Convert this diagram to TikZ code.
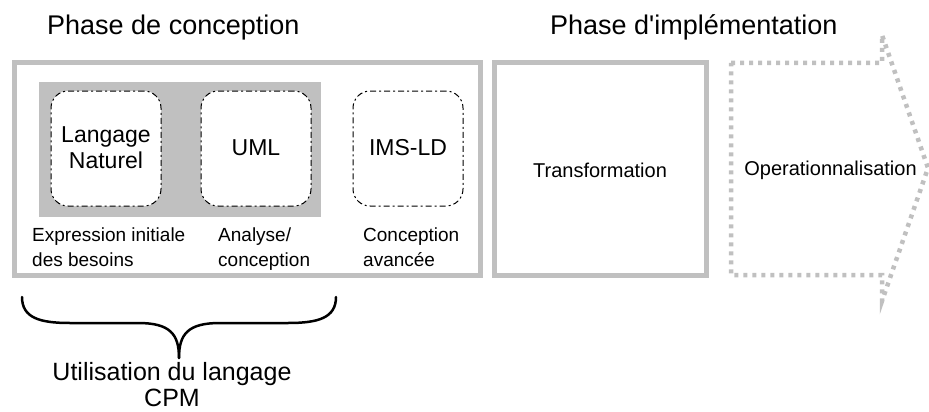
\documentclass[tikz,border=0pt]{standalone}
\usepackage{fontspec}
\setmainfont{Liberation Sans}
\definecolor{boxgray}{HTML}{C0C0C0}
\definecolor{fillgray}{HTML}{C0C0C0}
\begin{document}
\begin{tikzpicture}[x=1pt,y=-1pt,
  phasebox/.style={draw=boxgray, line width=5pt, minimum width=#1, minimum height=212pt, inner sep=0pt},
  langbox/.style={draw=black, fill=white, line width=1pt, dash pattern=on 6pt off 3pt on 2pt off 3pt,
    rounded corners=17pt, minimum width=110pt, minimum height=115pt, inner sep=0pt},
  title/.style={font=\fontsize{27}{32}\selectfont, inner sep=0pt, anchor=base west},
  langtxt/.style={font=\fontsize{23}{26}\selectfont, align=center, inner sep=0pt},
  lbl/.style={font=\fontsize{19}{25}\selectfont, align=left, inner sep=0pt, anchor=north west},
  midtxt/.style={font=\fontsize{20}{24}\selectfont, inner sep=0pt},
]
\useasboundingbox (0,0) rectangle (929,412);

% titles
\node[title] (t1) at (47,35) {Phase de conception};
\node[title] (t2) at (550,35) {Phase d\textquotesingle implémentation};

% conception box
\node[phasebox=466pt] (conc) at (247,169) {};
\fill[fillgray] (39,82) rectangle (321,217);
\node[langbox] (ln) at (106,148.5) {};
\node[langbox] (uml) at (256,148.5) {};
\node[langbox] (ims) at (408,148.5) {};
\node[langtxt] (lnt) at (106,148) {Langage\\Naturel};
\node[langtxt] (umlt) at (256,148) {UML};
\node[langtxt] (imst) at (408,148) {IMS-LD};

\node[lbl] (l1) at (32,228) {Expression initiale\\des besoins};
\node[lbl] (l2) at (218,228) {Analyse/\\conception};
\node[lbl] (l3) at (363,228) {Conception\\avancée};

% transformation box
\node[phasebox=212pt] (trans) at (600.5,169) {};
\node[midtxt] (transt) at (600,170) {Transformation};

% operationnalisation arrow
\draw[boxgray, line width=4.5pt, dash pattern=on 4pt off 5pt]
  (731,63) -- (882,63) -- (882,35) -- (928,168) -- (882,301) -- (882,275) -- (731,275) -- cycle;
\node[midtxt] (opt) at (830.5,170) {Operationnalisation};

% brace
\coordinate (bl) at (22,297);
\coordinate (br) at (336,297);
\coordinate (tip) at (179,358);
\draw[line width=2.5pt, line cap=round]
  (bl) .. controls (22,318) and (40,323) .. (70,323) -- (138,323)
  .. controls (170,323) and (179,334) .. (tip);
\draw[line width=2.5pt, line cap=round]
  (br) .. controls (336,318) and (318,323) .. (288,323) -- (220,323)
  .. controls (188,323) and (179,334) .. (tip);
\node[font=\fontsize{25}{26}\selectfont, align=center, inner sep=0pt, anchor=north] (cpm) at (172,362) {Utilisation du langage\\CPM};
\end{tikzpicture}
\end{document}
